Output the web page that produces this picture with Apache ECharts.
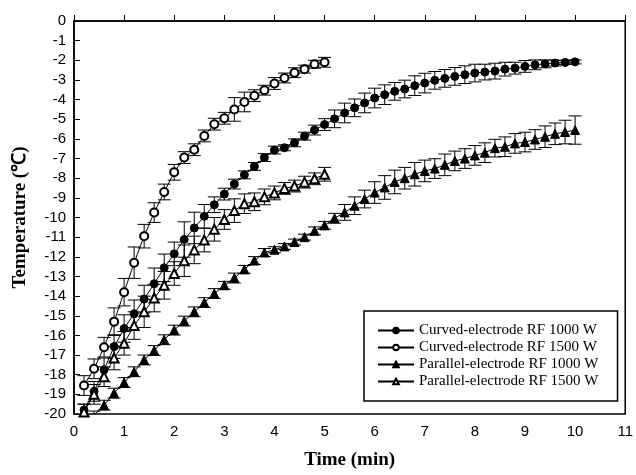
<!DOCTYPE html>
<html>
<head>
<meta charset="utf-8">
<script src="https://cdn.jsdelivr.net/npm/echarts@6/dist/echarts.min.js"></script>
<style>
html,body{margin:0;padding:0;background:#fff;}
#chart{width:636px;height:475px;}
</style>
</head>
<body>
<div id="chart"></div>
<script>
// ---- data ----
var time10 = [0.2,0.4,0.6,0.8,1.0,1.2,1.4,1.6,1.8,2.0,2.2,2.4,2.6,2.8,3.0,3.2,3.4,3.6,3.8,4.0,4.2,4.4,4.6,4.8,5.0,
              5.2,5.4,5.6,5.8,6.0,6.2,6.4,6.6,6.8,7.0,7.2,7.4,7.6,7.8,8.0,8.2,8.4,8.6,8.8,9.0,9.2,9.4,9.6,9.8,10.0];
var time5 = [0.2,0.4,0.6,0.8,1.0,1.2,1.4,1.6,1.8,2.0,2.2,2.4,2.6,2.8,3.0,3.2,3.4,3.6,3.8,4.0,4.2,4.4,4.6,4.8,5.0];

var curved1000 = [-19.8,-18.85,-17.75,-16.57,-15.65,-14.9,-14.15,-13.37,-12.56,-11.85,-11.12,-10.53,-9.94,-9.35,-8.81,
                  -8.3,-7.83,-7.4,-6.95,-6.57,-6.45,-6.2,-5.86,-5.55,-5.27,-4.98,-4.68,-4.42,-4.17,-3.92,
                  -3.75,-3.58,-3.46,-3.29,-3.16,-3.02,-2.92,-2.82,-2.73,-2.65,-2.6,-2.55,-2.45,-2.4,-2.31,
                  -2.23,-2.18,-2.14,-2.11,-2.08];
var curved1000Err = [0.3,0.5,0.6,0.6,0.7,0.7,0.7,0.8,0.7,0.6,0.9,0.8,0.6,0.4,0.3,0.25,0.2,0.2,0.2,0.2,
                     0.15,0.2,0.2,0.25,0.3,0.45,0.5,0.45,0.5,0.5,0.5,0.45,0.45,0.5,0.5,0.45,0.45,0.45,0.45,0.45,
                     0.4,0.4,0.35,0.3,0.3,0.25,0.2,0.15,0.1,0.1];

var curved1500 = [-18.55,-17.7,-16.6,-15.3,-13.8,-12.3,-10.95,-9.75,-8.7,-7.7,-6.95,-6.55,-5.85,-5.25,-4.95,
                  -4.5,-4.12,-3.8,-3.52,-3.18,-2.9,-2.63,-2.45,-2.2,-2.1];
var curved1500Err = [0.5,0.5,0.5,0.7,0.7,0.8,0.6,0.5,0.4,0.4,0.3,0.3,0.3,0.3,0.3,0.6,0.5,0.3,0.25,0.3,0.25,0.25,0.2,0.2,0.25];

var parallel1000 = [null,-20.05,-19.55,-18.94,-18.4,-17.85,-17.25,-16.77,-16.22,-15.73,-15.27,-14.8,-14.33,-13.87,-13.45,
                    -13.08,-12.64,-12.19,-11.78,-11.64,-11.47,-11.25,-11.0,-10.68,-10.4,-10.04,-9.74,-9.4,-9.06,-8.73,
                    -8.47,-8.19,-8.0,-7.8,-7.63,-7.51,-7.32,-7.12,-7.0,-6.84,-6.7,-6.47,-6.4,-6.23,-6.16,
                    -6.03,-5.89,-5.74,-5.65,-5.55];
var parallel1000Err = [null,0.2,0.25,0.25,0.25,0.25,0.25,0.25,0.25,0.25,0.25,0.25,0.25,0.25,0.2,0.25,0.2,0.2,0.2,0.15,
                       0.15,0.15,0.15,0.2,0.2,0.25,0.4,0.45,0.45,0.55,0.6,0.6,0.55,0.6,0.55,0.5,0.55,0.5,0.5,0.5,
                       0.5,0.45,0.5,0.5,0.5,0.5,0.55,0.55,0.6,0.72];

var parallel1500 = [-19.9,-19.0,-18.1,-17.15,-16.4,-15.5,-14.8,-14.1,-13.45,-12.85,-12.2,-11.65,-11.15,-10.6,-10.1,
                    -9.65,-9.3,-9.2,-8.95,-8.75,-8.52,-8.4,-8.2,-8.03,-7.8];
var parallel1500Err = [0.4,0.5,0.5,0.6,0.6,0.7,0.8,0.7,0.7,0.6,0.8,0.7,0.6,0.6,0.5,0.6,0.5,0.45,0.4,0.35,0.3,0.3,0.3,0.3,0.35];

var seriesNames = ['Curved-electrode RF 1000 W','Curved-electrode RF 1500 W','Parallel-electrode RF 1000 W','Parallel-electrode RF 1500 W'];
var xTicks = [0,1,2,3,4,5,6,7,8,9,10,11];
var yTicks = [0,-1,-2,-3,-4,-5,-6,-7,-8,-9,-10,-11,-12,-13,-14,-15,-16,-17,-18,-19,-20];

// ---- build ----
function pts(t, v){ var out=[]; for(var i=0;i<t.length;i++){ if(v[i]!==null) out.push([t[i],v[i]]); } return out; }
function errs(t, v, e){ var out=[]; for(var i=0;i<t.length;i++){ if(v[i]!==null) out.push([t[i],v[i]-e[i],v[i]+e[i]]); } return out; }

function errRender(params, api){
  var x = api.value(0), lo = api.value(1), hi = api.value(2);
  var a = api.coord([x, hi]), b = api.coord([x, lo]);
  var cs = params.coordSys;
  var yMin = cs.y, yMax = cs.y + cs.height;
  var y1 = Math.max(yMin, Math.min(yMax, a[1]));
  var y2 = Math.max(yMin, Math.min(yMax, b[1]));
  var hw = 6.5;
  var st = {stroke:'#000', lineWidth:1, fill:null};
  var ch = [{type:'line', shape:{x1:a[0],y1:y1,x2:a[0],y2:y2}, style:st}];
  if (a[1] >= yMin && a[1] <= yMax) ch.push({type:'line', shape:{x1:a[0]-hw,y1:a[1],x2:a[0]+hw,y2:a[1]}, style:st});
  if (b[1] >= yMin && b[1] <= yMax) ch.push({type:'line', shape:{x1:b[0]-hw,y1:b[1],x2:b[0]+hw,y2:b[1]}, style:st});
  return {type:'group', children:ch};
}

function lineSeries(name, data, symbol, size){
  return {
    name:name, type:'line', data:data, symbol:symbol, symbolSize:size, showSymbol:true,
    lineStyle:{color:'#000', width:1}, itemStyle:{color:'#000', borderColor:'#000', borderWidth:1},
    emphasis:{disabled:true}, animation:false, z:3, clip:true
  };
}
function errSeries(data){
  return {type:'custom', renderItem:errRender, data:data, z:2, animation:false, silent:true,
          encode:{x:0, y:[1,2]}};
}

var chart = echarts.init(document.getElementById('chart'), null, {renderer:'canvas'});
chart.setOption({
  backgroundColor:'#fff',
  animation:false,
  grid:{left:74, right:7, top:21, bottom:59, show:true, borderColor:'#000', borderWidth:1.5, backgroundColor:'transparent'},
  xAxis:{
    type:'value', min:xTicks[0], max:xTicks[xTicks.length-1], interval:1,
    name:'Time (min)', nameLocation:'middle', nameGap:37,
    nameTextStyle:{fontFamily:'Liberation Serif', fontWeight:'bold', fontSize:19, color:'#000'},
    axisLine:{lineStyle:{color:'#000', width:1.5}},
    axisTick:{inside:true, length:6, lineStyle:{color:'#000', width:1}},
    axisLabel:{fontFamily:'Liberation Sans', fontSize:15, color:'#000', margin:10},
    splitLine:{show:false}
  },
  yAxis:{
    type:'value', min:yTicks[yTicks.length-1], max:yTicks[0], interval:1,
    name:'Temperature (℃)', nameLocation:'middle', nameGap:44, nameRotate:90,
    nameTextStyle:{fontFamily:'Liberation Serif', fontWeight:'bold', fontSize:19, color:'#000'},
    axisLine:{lineStyle:{color:'#000', width:1.5}},
    axisTick:{inside:true, length:6, lineStyle:{color:'#000', width:1}},
    axisLabel:{fontFamily:'Liberation Sans', fontSize:15, color:'#000', margin:8},
    splitLine:{show:false}
  },
  legend:{
    data:seriesNames, orient:'vertical', left:364, top:311,
    padding:[12,19,12,13], itemGap:2, itemWidth:36, itemHeight:7,
    borderColor:'#000', borderWidth:1.5, backgroundColor:'#fff',
    selectedMode:false,
    textStyle:{fontFamily:'Liberation Serif', fontSize:15, color:'#000', lineHeight:15}
  },
  series:[
    errSeries(errs(time10, curved1000, curved1000Err)),
    errSeries(errs(time5, curved1500, curved1500Err)),
    errSeries(errs(time10, parallel1000, parallel1000Err)),
    errSeries(errs(time5, parallel1500, parallel1500Err)),
    lineSeries(seriesNames[0], pts(time10, curved1000), 'circle', 8),
    lineSeries(seriesNames[1], pts(time5, curved1500), 'emptyCircle', 8),
    lineSeries(seriesNames[2], pts(time10, parallel1000), 'triangle', 9),
    lineSeries(seriesNames[3], pts(time5, parallel1500), 'emptyTriangle', 9)
  ]
});
</script>
</body>
</html>
